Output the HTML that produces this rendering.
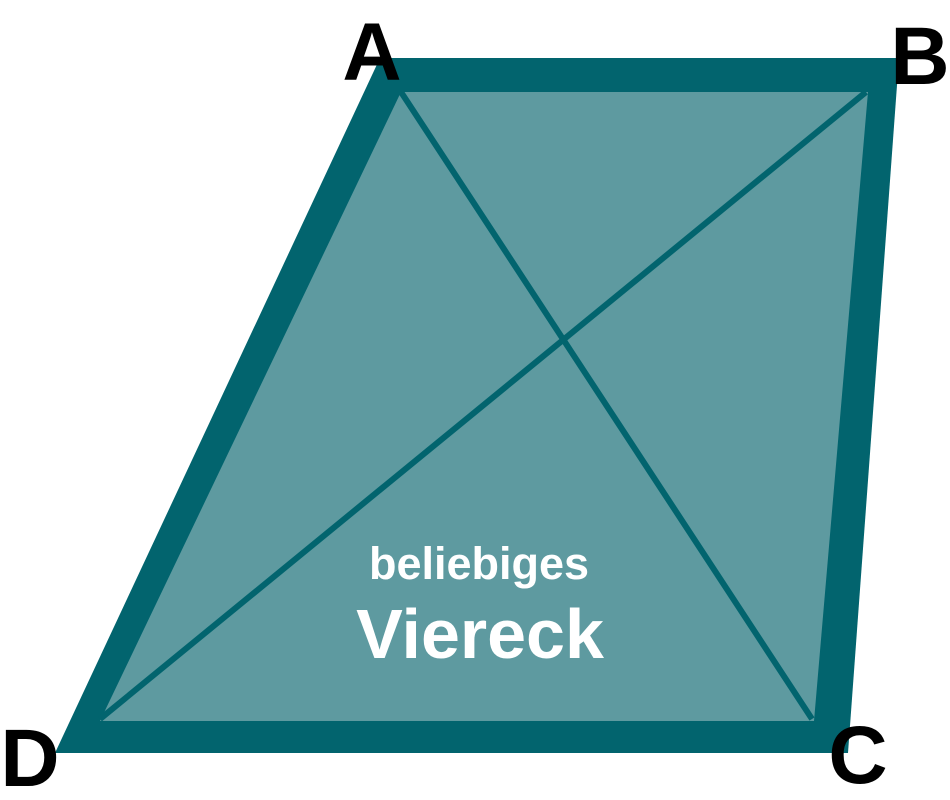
<!DOCTYPE html>
<html><head><style>html,body{margin:0;padding:0;background:#fff;width:950px;height:800px;overflow:hidden}</style></head>
<body>
<svg width="950" height="800" viewBox="0 0 950 800" xmlns="http://www.w3.org/2000/svg">
<polygon points="380,58 899,58 848,753 55,753" fill="#02646e"/>
<polygon points="401,92 868,92 814,721 100,721" fill="#5e9aa0"/>
<line x1="401" y1="92" x2="812" y2="719" stroke="#02646e" stroke-width="6"/>
<line x1="866" y1="92" x2="100" y2="719" stroke="#02646e" stroke-width="6"/>
<g font-family="'Liberation Sans', sans-serif" font-weight="bold" fill="#fff" text-anchor="middle">
<text x="479" y="579" font-size="45">beliebiges</text>
<text x="480" y="658" font-size="70">Viereck</text>
</g>
<g font-family="'Liberation Sans', sans-serif" font-weight="bold" fill="#000" text-anchor="middle" font-size="82">
<text x="372" y="80">A</text>
<text x="920" y="84">B</text>
<text x="858" y="783">C</text>
<text x="30" y="786">D</text>
</g>
</svg>
</body></html>
